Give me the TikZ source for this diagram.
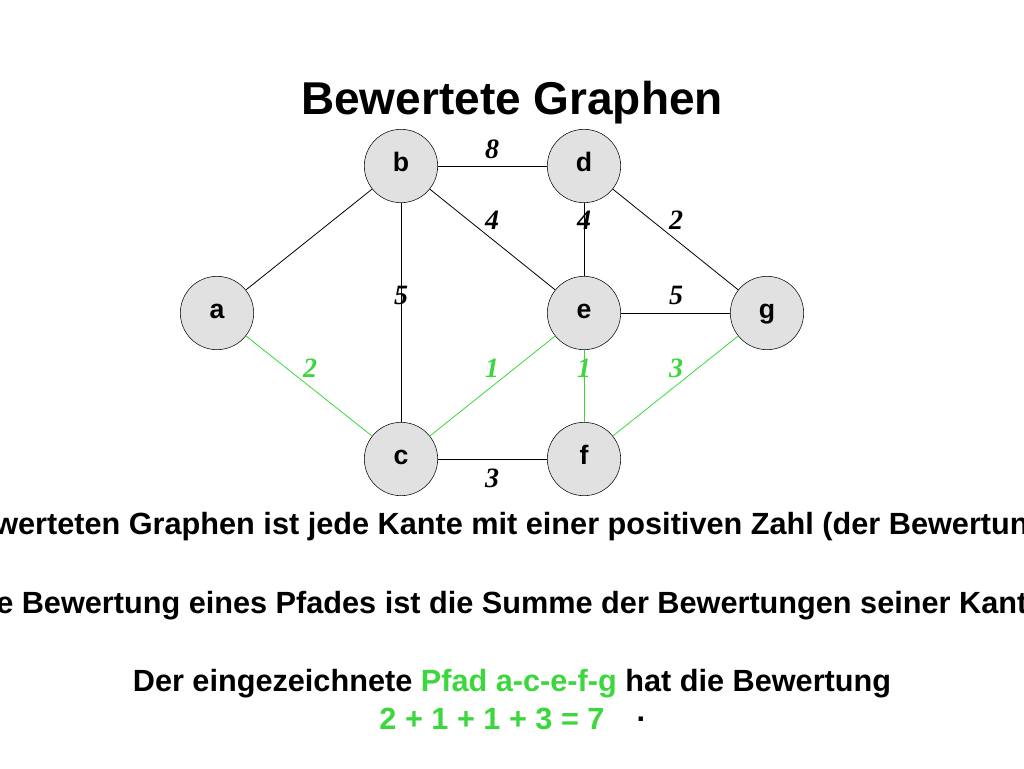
\documentclass[tikz,border=0pt]{standalone}
\usepackage{fontspec}
\setmainfont{Liberation Sans}
\newfontfamily\numfont{Liberation Serif}
\usetikzlibrary{positioning}
\definecolor{pfadgreen}{RGB}{60,215,60}
\definecolor{knotgray}{RGB}{225,225,225}

\begin{document}
\begin{tikzpicture}[x=0.75pt,y=-0.75pt,
	knot/.style={circle,draw=black,fill=knotgray,minimum size=55pt,inner sep=0pt,
		text height=1.6ex,text depth=0pt,font=\fontsize{20}{22}\selectfont\bfseries},
	kante/.style={draw=black,line width=0.6pt},
	pfad/.style={draw=pfadgreen,line width=0.6pt},
	gewicht/.style={font=\numfont\fontsize{21}{23}\selectfont\bfseries\itshape},
	zeile/.style={font=\fontsize{23}{26}\selectfont\bfseries}
]
	\useasboundingbox[clip] (0,0) rectangle (1024,768);
	\node[font=\fontsize{34.5}{38}\selectfont\bfseries] (titel) at (512,103) {Bewertete Graphen};
	%% Knoten
	\node[knot] (b) at (401,166) {b};
	\node[knot] (d) at (584,166) {d};
	\node[knot] (a) at (217,313) {a};
	\node[knot] (e) at (584,313) {e};
	\node[knot] (g) at (767,313) {g};
	\node[knot] (c) at (401,459) {c};
	\node[knot] (f) at (584,459) {f};
	% Kanten
	\draw[kante] (b) -- (d);
	\draw[kante] (a) -- (b);
	\draw[kante] (b) -- (c);
	\draw[kante] (b) -- (e);
	\draw[kante] (d) -- (e);
	\draw[kante] (d) -- (g);
	\draw[kante] (e) -- (g);
	\draw[kante] (c) -- (f);
	% eingezeichneter Pfad
	\draw[pfad] (a) -- (c);
	\draw[pfad] (c) -- (e);
	\draw[pfad] (e) -- (f);
	\draw[pfad] (f) -- (g);
	% Bewertungen
	\node[gewicht] (w1) at (492,149) {8};
	\node[gewicht] (w2) at (492,220) {4};
	\node[gewicht] (w3) at (584,220) {4};
	\node[gewicht] (w4) at (676,220) {2};
	\node[gewicht] (w5) at (401,295) {5};
	\node[gewicht] (w6) at (676,295) {5};
	\node[gewicht,pfadgreen] (w7) at (310,368) {2};
	\node[gewicht,pfadgreen] (w8) at (492,368) {1};
	\node[gewicht,pfadgreen] (w9) at (584,368) {1};
	\node[gewicht,pfadgreen] (w10) at (676,368) {3};
	\node[gewicht] (w11) at (492,478) {3};
	%% Text
	\node[zeile,anchor=west,inner sep=0pt] (z1) at (-6,527) {werteten Graphen ist jede Kante mit einer positiven Zahl (der Bewertun};
	\node[zeile,anchor=west,inner sep=0pt] (z2) at (-4,606) {e Bewertung eines Pfades ist die Summe der Bewertungen seiner Kant};
	\node[zeile] (z3) at (512,684) {Der eingezeichnete \textcolor{pfadgreen}{Pfad a-c-e-f-g} hat die Bewertung};
	\node[zeile,pfadgreen] (z4) at (492,719) {2 + 1 + 1 + 3 = 7};
	\node[zeile] (z5) at (641,719) {.};
\end{tikzpicture}
\end{document}
